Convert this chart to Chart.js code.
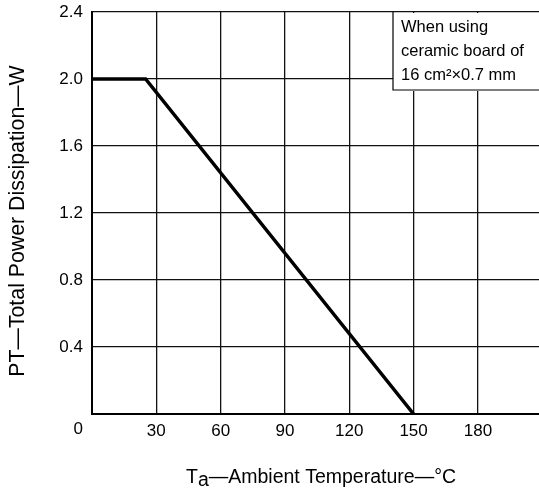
<!DOCTYPE html>
<html>
<head>
<meta charset="utf-8">
<script src="https://cdn.jsdelivr.net/npm/chart.js@4.4.1/dist/chart.umd.min.js"></script>
<style>
  html, body { margin: 0; padding: 0; background: #fff; }
  #wrap { width: 539px; height: 491px; }
</style>
</head>
<body>
<div id="wrap"><canvas id="chart" width="539" height="491"></canvas></div>
<script>
// derating curve
const tempC = [0, 25, 150];
const powerW = [2.0, 2.0, 0];

const xTicks = [0, 30, 60, 90, 120, 150, 180];
const yTicks = [0, 0.4, 0.8, 1.2, 1.6, 2.0, 2.4];

const xTitleMain = 'T';
const xTitleSub = 'a';
const xTitleRest = '\u2014Ambient Temperature\u2014\u00B0C';
const yTitle = 'PT\u2014Total Power Dissipation\u2014W';
const originLabel = '0';
const noteLines = ['When using', 'ceramic board of', '16 cm\u00B2\u00D70.7 mm'];

const FONT = '"Liberation Sans", Arial, Helvetica, sans-serif';

// titles, origin label and the note box are drawn by hand
const extrasPlugin = {
  id: 'extras',
  afterDraw(chart) {
    const ctx = chart.ctx;
    const area = chart.chartArea;
    const xs = chart.scales.x;
    ctx.save();
    ctx.fillStyle = '#000';

    // shared "0" at the origin
    ctx.font = '17px ' + FONT;
    ctx.textAlign = 'right';
    ctx.textBaseline = 'middle';
    ctx.fillText(originLabel, xs.getPixelForValue(0) - 9, area.bottom + 15);

    // x title with subscript
    ctx.font = '19.5px ' + FONT;
    ctx.textBaseline = 'alphabetic';
    ctx.textAlign = 'left';
    const wMain = ctx.measureText(xTitleMain).width;
    const wSub = ctx.measureText(xTitleSub).width;
    const wRest = ctx.measureText(xTitleRest).width;
    let tx = 321 - (wMain + wSub + wRest) / 2;
    const ty = 483;
    ctx.fillText(xTitleMain, tx, ty);
    tx += wMain;
    ctx.fillText(xTitleSub, tx, ty + 3);
    tx += wSub;
    ctx.fillText(xTitleRest, tx, ty);

    // y title, rotated
    ctx.save();
    ctx.font = '21.3px ' + FONT;
    ctx.translate(18, 221);
    ctx.rotate(-Math.PI / 2);
    ctx.textAlign = 'center';
    ctx.textBaseline = 'middle';
    ctx.fillText(yTitle, 0, 0);
    ctx.restore();

    // note box in top right corner
    const bw = 146, bh = 78;
    const bx = area.right - bw, by = area.top;
    ctx.fillStyle = '#fff';
    ctx.fillRect(bx, by + 1, bw + 2, bh);
    ctx.strokeStyle = '#000';
    ctx.lineWidth = 1.2;
    ctx.beginPath();
    ctx.moveTo(bx, by);
    ctx.lineTo(bx, by + bh);
    ctx.lineTo(area.right + 2, by + bh);
    ctx.stroke();
    ctx.fillStyle = '#000';
    ctx.font = '16.5px ' + FONT;
    ctx.textAlign = 'left';
    ctx.textBaseline = 'alphabetic';
    noteLines.forEach((t, i) => ctx.fillText(t, bx + 8, by + 20 + i * 24));
    ctx.restore();
  }
};

new Chart(document.getElementById('chart'), {
  type: 'line',
  data: {
    datasets: [{
      data: tempC.map((t, i) => ({ x: t, y: powerW[i] })),
      borderColor: '#000',
      borderWidth: 3.5,
      pointRadius: 0,
      tension: 0,
      fill: false
    }]
  },
  options: {
    responsive: false,
    animation: false,
    layout: { padding: { top: 12, left: 0, right: 0, bottom: 0 } },
    plugins: { legend: { display: false }, tooltip: { enabled: false } },
    scales: {
      x: {
        type: 'linear',
        min: 0,
        max: 208.5,
        afterBuildTicks: s => { s.ticks = xTicks.map(v => ({ value: v })); },
        afterFit: s => { s.height = 77; s.paddingLeft = 0; s.paddingRight = 0; },
        grid: { color: '#111', lineWidth: 1.3, drawTicks: false },
        border: { display: true, color: '#000', width: 2 },
        ticks: {
          padding: 7,
          color: '#000',
          font: { family: FONT, size: 17 },
          maxRotation: 0,
          callback: v => (v === 0 ? '' : String(v))
        }
      },
      y: {
        min: 0,
        max: 2.4,
        afterBuildTicks: s => { s.ticks = yTicks.map(v => ({ value: v })); },
        afterFit: s => { s.width = 92; s.paddingTop = 0; s.paddingBottom = 0; },
        grid: { color: '#111', lineWidth: 1.3, drawTicks: false },
        border: { display: true, color: '#000', width: 2 },
        ticks: {
          padding: 9,
          color: '#000',
          font: { family: FONT, size: 17 },
          callback: v => (v === 0 ? '' : v.toFixed(1))
        }
      }
    }
  },
  plugins: [extrasPlugin]
});
</script>
</body>
</html>
